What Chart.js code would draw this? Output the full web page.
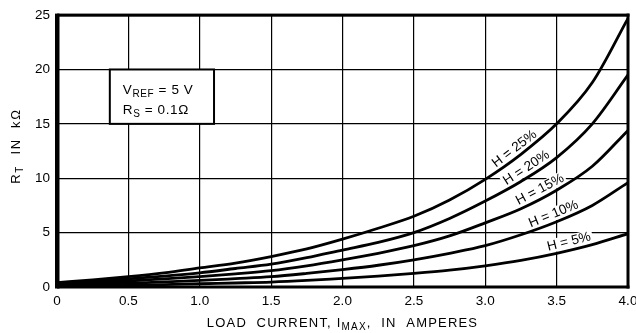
<!DOCTYPE html>
<html lang="en">
<head>
<meta charset="UTF-8">
<title>Timing resistor vs load current</title>
<style>
    * { margin: 0; padding: 0; box-sizing: border-box; }
    body { background: #fff; width: 636px; height: 333px; overflow: hidden; }
</style>
</head>
<body>
<canvas id="rtChart" width="636" height="333"></canvas>

<script src="https://cdn.jsdelivr.net/npm/chart.js"></script>
<script>
    // load current (A) and R_T (kOhm) for each hysteresis setting
    const currents = [0, 0.25, 0.5, 0.75, 1.0, 1.25, 1.5, 1.75, 2.0, 2.25, 2.5, 2.75, 3.0, 3.25, 3.5, 3.75, 4.0];
    const rtH25 = [0.4, 0.65, 0.95, 1.3, 1.75, 2.2, 2.8, 3.5, 4.4, 5.4, 6.5, 8.0, 9.9, 12.2, 15.0, 18.8, 24.7];
    const rtH20 = [0.3, 0.5, 0.75, 1.0, 1.3, 1.7, 2.1, 2.7, 3.4, 4.1, 5.0, 6.3, 7.9, 9.7, 11.9, 15.0, 19.5];
    const rtH15 = [0.2, 0.35, 0.55, 0.75, 0.95, 1.2, 1.5, 1.95, 2.5, 3.1, 3.8, 4.7, 5.9, 7.2, 8.9, 11.1, 14.4];
    const rtH10 = [0.12, 0.22, 0.35, 0.47, 0.6, 0.77, 0.95, 1.25, 1.6, 2.0, 2.5, 3.1, 3.8, 4.8, 6.0, 7.5, 9.6];
    const rtH5 = [0.05, 0.1, 0.15, 0.22, 0.3, 0.37, 0.45, 0.6, 0.8, 1.0, 1.25, 1.55, 1.95, 2.45, 3.1, 3.9, 4.9];
    const seriesNames = ['H = 25%', 'H = 20%', 'H = 15%', 'H = 10%', 'H = 5%'];

    const xTickLabels = ['0', '0.5', '1.0', '1.5', '2.0', '2.5', '3.0', '3.5', '4.0'];
    const yTickLabels = ['0', '5', '10', '15', '20', '25'];

    const FONT = '"Liberation Sans", Arial, sans-serif';

    function toPoints(vals) {
        return vals.map((v, i) => ({ x: currents[i], y: v }));
    }

    function valueAt(pts, x) {
        for (let i = 1; i < pts.length; i++) {
            if (x <= pts[i].x) {
                const a = pts[i - 1], b = pts[i];
                return a.y + (b.y - a.y) * (x - a.x) / (b.x - a.x);
            }
        }
        return pts[pts.length - 1].y;
    }

    // text with subscript parts: [[text, isSub], ...]
    function richWidth(ctx, parts, size) {
        let w = 0;
        parts.forEach(([t, sub]) => {
            ctx.font = (sub ? Math.round(size * 0.74) : size) + 'px ' + FONT;
            w += ctx.measureText(t).width;
        });
        return w;
    }
    function drawRich(ctx, parts, x, y, size, align) {
        let cx = align === 'center' ? x - richWidth(ctx, parts, size) / 2 : x;
        ctx.textAlign = 'left';
        ctx.textBaseline = 'alphabetic';
        parts.forEach(([t, sub]) => {
            ctx.font = (sub ? Math.round(size * 0.74) : size) + 'px ' + FONT;
            ctx.fillText(t, cx, y + (sub ? size * 0.2 : 0));
            cx += ctx.measureText(t).width;
        });
    }

    // H = n% labels laid along each curve, behind the lines
    const curveLabels = {
        id: 'curveLabels',
        beforeDatasetsDraw(chart, args, opts) {
            const ctx = chart.ctx;
            const xs = chart.scales.x, ys = chart.scales.y;
            ctx.save();
            chart.data.datasets.forEach((ds, i) => {
                const at = opts.at[i];
                const px = v => xs.getPixelForValue(v);
                const py = v => ys.getPixelForValue(valueAt(ds.data, v));
                const x0 = px(at), y0 = py(at);
                const ang = Math.atan2(py(at + 0.1) - py(at - 0.1), px(at + 0.1) - px(at - 0.1));
                ctx.translate(x0, y0);
                ctx.rotate(ang);
                ctx.font = opts.size + 'px ' + FONT;
                const w = ctx.measureText(ds.label).width;
                ctx.fillStyle = '#fff';
                ctx.fillRect(-w / 2 - 2, -opts.gap - opts.size, w + 4, opts.size);
                ctx.fillStyle = '#000';
                ctx.textAlign = 'center';
                ctx.textBaseline = 'bottom';
                ctx.fillText(ds.label, 0, -opts.gap);
                ctx.setTransform(1, 0, 0, 1, 0, 0);
            });
            ctx.restore();
        }
    };

    // heavy frame, parameter box and axis titles
    const decorations = {
        id: 'decorations',
        afterDatasetsDraw(chart, args, opts) {
            const ctx = chart.ctx;
            const a = chart.chartArea;
            const xs = chart.scales.x, ys = chart.scales.y;
            ctx.save();
            ctx.fillStyle = '#000';
            ctx.fillRect(a.left - 2, a.top - 1.5, 4.5, a.bottom - a.top + 3);
            ctx.fillRect(a.left, a.top - 1.5, a.right - a.left + 1.5, 3);
            ctx.fillRect(a.right - 1.5, a.top - 1.5, 3, a.bottom - a.top + 3);
            ctx.fillRect(a.left, a.bottom - 1.5, a.right - a.left + 1.5, 3);

            const b = opts.box;
            const bx1 = xs.getPixelForValue(b.x[0]), bx2 = xs.getPixelForValue(b.x[1]);
            const by1 = ys.getPixelForValue(b.y[1]), by2 = ys.getPixelForValue(b.y[0]);
            ctx.fillStyle = '#fff';
            ctx.fillRect(bx1, by1, bx2 - bx1, by2 - by1);
            ctx.strokeStyle = '#000';
            ctx.lineWidth = 2;
            ctx.strokeRect(bx1, by1, bx2 - bx1, by2 - by1);
            ctx.fillStyle = '#000';
            ctx.letterSpacing = '0.6px';
            drawRich(ctx, [['V', false], ['REF', true], [' = 5 V', false]], bx1 + 13, by1 + 25, 13.5, 'left');
            drawRich(ctx, [['R', false], ['S', true], [' = 0.1\u03A9', false]], bx1 + 13, by1 + 45, 13.5, 'left');

            ctx.letterSpacing = '1.2px';
            drawRich(ctx, [['LOAD  CURRENT, I', false], ['MAX', true], [',  IN  AMPERES', false]],
                (a.left + a.right) / 2, 327, 13, 'center');

            ctx.translate(20, (a.top + a.bottom) / 2 - 5);
            ctx.rotate(-Math.PI / 2);
            ctx.letterSpacing = '1.6px';
            drawRich(ctx, [['R', false], ['T', true], ['  IN  k\u03A9', false]], 0, 0, 13, 'center');
            ctx.restore();
        }
    };

    const rtData = [rtH25, rtH20, rtH15, rtH10, rtH5];

    new Chart(document.getElementById('rtChart'), {
        type: 'line',
        data: {
            datasets: rtData.map((vals, i) => ({
                label: seriesNames[i],
                data: toPoints(vals),
                borderColor: '#000',
                borderWidth: 2.8,
                pointRadius: 0,
                fill: false,
                cubicInterpolationMode: 'monotone'
            }))
        },
        options: {
            responsive: false,
            animation: false,
            layout: { padding: { top: 14, right: 8, left: 0, bottom: 0 } },
            plugins: {
                legend: { display: false },
                tooltip: { enabled: false },
                curveLabels: { at: [3.24, 3.32, 3.41, 3.5, 3.6], gap: 1.5, size: 13.5 },
                decorations: { box: { x: [0.37, 1.1], y: [15, 20] } }
            },
            scales: {
                x: {
                    type: 'linear',
                    min: 0,
                    max: 4,
                    border: { display: false },
                    grid: { color: '#000', lineWidth: 1.2, drawTicks: false },
                    ticks: {
                        stepSize: 0.5,
                        padding: 6,
                        color: '#000',
                        font: { family: FONT, size: 13.5 },
                        maxRotation: 0,
                        autoSkip: false,
                        callback: (v, i) => xTickLabels[i]
                    },
                    afterFit(scale) {
                        scale.height = 46;
                        scale.paddingLeft = 0;
                        scale.paddingRight = 0;
                    }
                },
                y: {
                    min: 0,
                    max: 25,
                    border: { display: false },
                    grid: { color: '#000', lineWidth: 1.2, drawTicks: false },
                    ticks: {
                        stepSize: 5,
                        padding: 7,
                        color: '#000',
                        font: { family: FONT, size: 13.5 },
                        callback: (v, i) => yTickLabels[i]
                    },
                    afterFit(scale) {
                        scale.width = 57;
                    }
                }
            }
        },
        plugins: [curveLabels, decorations]
    });
</script>
</body>
</html>
